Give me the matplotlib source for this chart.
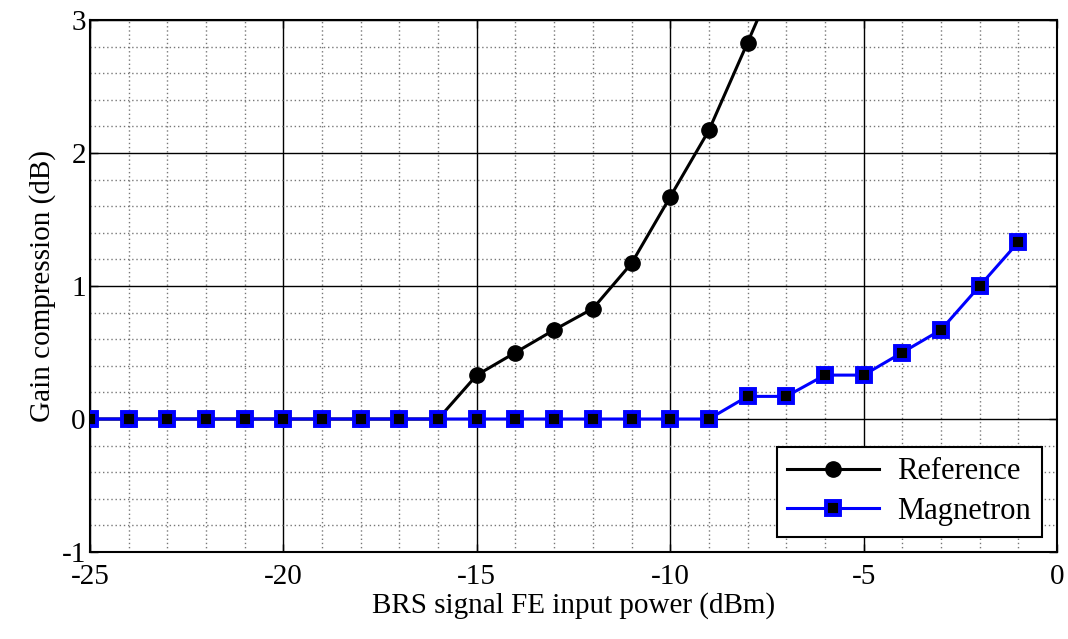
import numpy as np
import matplotlib
matplotlib.use("Agg")
import matplotlib.pyplot as plt
from matplotlib.ticker import MultipleLocator

# -----------------------------
# Données
# -----------------------------
x_ref = [-25, -24, -23, -22, -21, -20, -19, -18, -17, -16, -15, -14, -13, -12, -11, -10, -9, -8, -7]
y_ref = [0, 0, 0, 0, 0, 0, 0, 0, 0, 0, 0.33, 0.5, 0.67, 0.83, 1.17, 1.67, 2.17, 2.83, 3.5]

x_mag = [-25, -24, -23, -22, -21, -20, -19, -18, -17, -16, -15, -14, -13, -12, -11, -10, -9,
         -8, -7, -6, -5, -4, -3, -2, -1]
y_mag = [0, 0, 0, 0, 0, 0, 0, 0, 0, 0, 0, 0, 0, 0, 0, 0, 0,
         0.17, 0.17, 0.33, 0.33, 0.5, 0.67, 1.0, 1.33]

plt.rcParams['font.family'] = ['Liberation Serif', 'DejaVu Serif']
plt.rcParams['axes.unicode_minus'] = False

fig = plt.figure(figsize=(10.68, 6.39), dpi=100)
ax = fig.add_axes([90 / 1068, 1 - 552 / 639, (1057 - 90) / 1068, (552 - 20) / 639])

ax.plot(x_ref, y_ref, color="black", lw=2.2, marker="o", ms=11,
        mfc="black", mec="black", label="Reference", zorder=3)
ax.plot(x_mag, y_mag, color="#0000ff", lw=2.2, marker="s", ms=10,
        mfc="black", mec="#0000ff", mew=2.8, label="Magnetron", zorder=4)

ax.set_xlim(-25, 0)
ax.set_ylim(-1, 3)
ax.xaxis.set_major_locator(MultipleLocator(5))
ax.xaxis.set_minor_locator(MultipleLocator(1))
ax.yaxis.set_major_locator(MultipleLocator(1))
ax.yaxis.set_minor_locator(MultipleLocator(0.2))

ax.grid(which="major", color="black", lw=1.0, ls="-")
ax.grid(which="minor", color="#777777", lw=1.0, ls=(0, (1, 2)))
ax.set_axisbelow(True)

ax.tick_params(which="both", direction="in", top=True, right=True, labelsize=21)
ax.tick_params(which="major", length=6, width=1)
ax.tick_params(axis="x", pad=9)
ax.tick_params(axis="y", pad=3)
ax.tick_params(which="minor", length=0)
for s in ax.spines.values():
    s.set_linewidth(1.5)

ax.set_xlabel("BRS signal FE input power (dBm)", fontsize=21, labelpad=1)
ax.set_ylabel("Gain compression (dB)", fontsize=21, labelpad=4)

leg = ax.legend(loc="lower right", fontsize=22, fancybox=False, framealpha=1,
                edgecolor="black", handlelength=3.0, borderpad=0.35,
                labelspacing=0.35, borderaxespad=0.5, handletextpad=0.6)
leg.get_frame().set_linewidth(1.5)

fig.savefig("out.png", dpi=100)
